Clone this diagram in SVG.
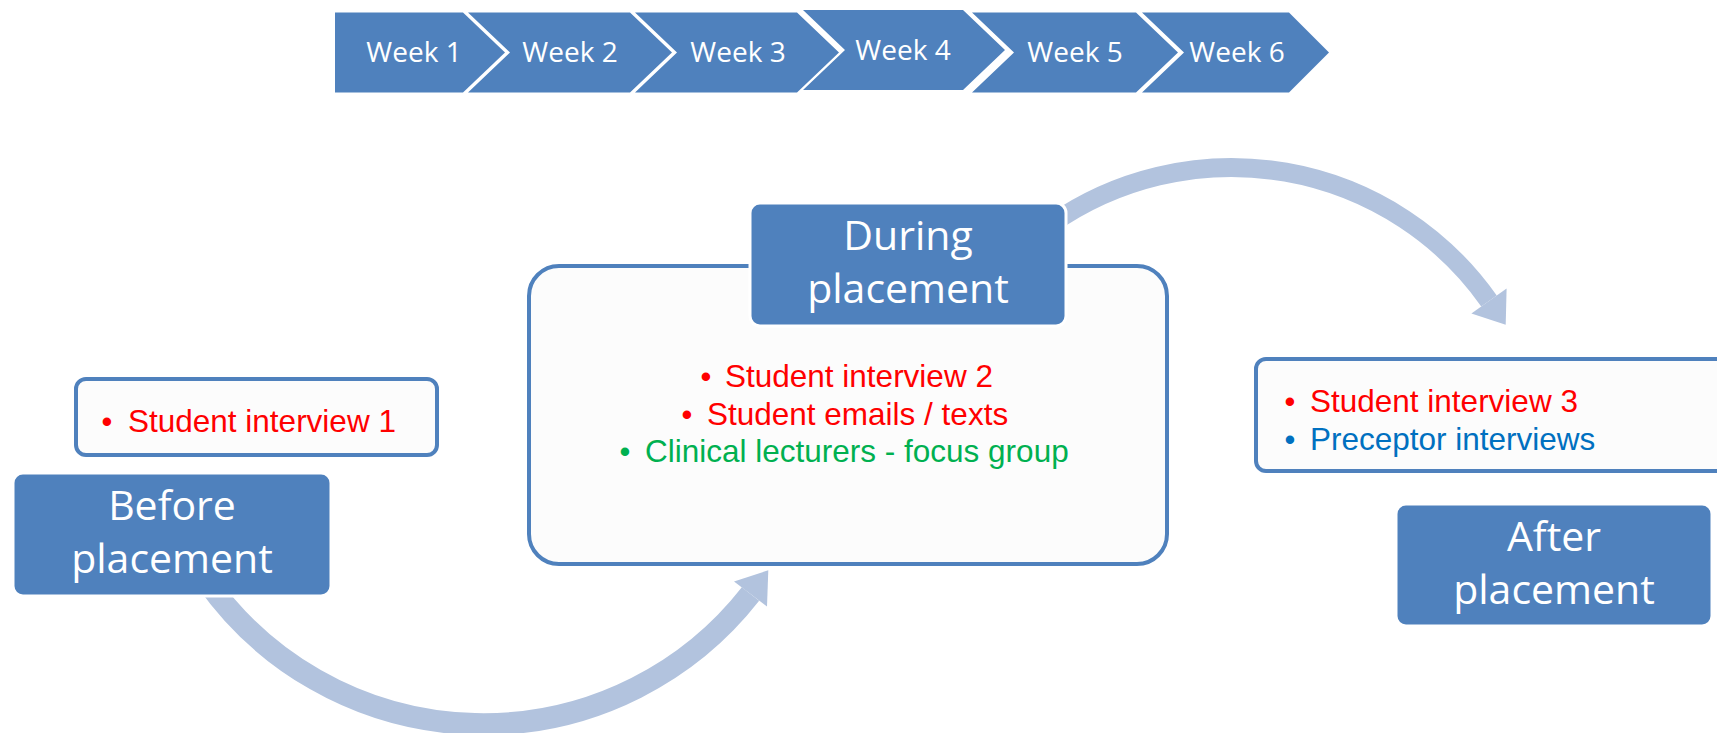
<svg xmlns="http://www.w3.org/2000/svg" width="1717" height="733" viewBox="0 0 1717 733">
<style>
.chev{fill:#4f81bd}
.wk{font-family:"Open Sans","Liberation Sans",sans-serif;font-size:28px;fill:#ffffff;text-anchor:middle}
.hdr{fill:#4f81bd;stroke:#ffffff;stroke-width:3}
.ht{font-family:"Open Sans","Liberation Sans",sans-serif;font-size:41px;fill:#ffffff;text-anchor:middle}
.box{fill:#fcfcfc;stroke:#4f81bd;stroke-width:4}
.bt{font-family:"Liberation Sans",Arial,sans-serif;font-size:31.5px}
.bu{font-family:"Liberation Sans",Arial,sans-serif;font-size:31px;text-anchor:middle}
.red{fill:#ff0000}
.grn{fill:#00b050}
.blu{fill:#0070c0}
.arc{fill:none;stroke:#b2c3de}
.head{fill:#b2c3de}
</style>
<rect width="1717" height="733" fill="#ffffff"/>

<g id="timeline">
  <g id="week1"><polygon class="chev" points="335,12.5 463,12.5 505,52.5 463,92.5 335,92.5"/><text class="wk" x="414" y="62">Week 1</text></g>
  <g id="week2"><polygon class="chev" points="468,12.5 630,12.5 672,52.5 630,92.5 468,92.5 510,52.5"/><text class="wk" x="570" y="62">Week 2</text></g>
  <g id="week3"><polygon class="chev" points="635,12.5 797,12.5 839,52.5 797,92.5 635,92.5 677,52.5"/><text class="wk" x="738" y="62">Week 3</text></g>
  <g id="week4"><polygon class="chev" points="803,10 963,10 1005,50 963,90 803,90 845,50"/><text class="wk" x="903" y="60">Week 4</text></g>
  <g id="week5"><polygon class="chev" points="972,12.5 1136,12.5 1178,52.5 1136,92.5 972,92.5 1014,52.5"/><text class="wk" x="1075" y="62">Week 5</text></g>
  <g id="week6"><polygon class="chev" points="1142,12.5 1289,12.5 1329,52.5 1289,92.5 1142,92.5 1184,52.5"/><text class="wk" x="1237" y="62">Week 6</text></g>
</g>

<g id="connectors">
  <path class="arc" stroke-width="19" d="M 1050.8 224.5 A 315 315 0 0 1 1489 301"/>
  <polygon class="head" points="1471.4,313.4 1506.6,288.6 1505.7,324.7"/>
  <path class="arc" stroke-width="22" d="M 206 580 A 339 339 0 0 0 750.5 594"/>
  <polygon class="head" points="734,581.6 767,606.4 768.3,570.2"/>
</g>

<g id="before-content">
  <rect class="box" x="76" y="379" width="361" height="76" rx="10"/>
  <text class="bu red" x="107" y="432">•</text>
  <text class="bt red" x="128" y="432">Student interview 1</text>
</g>

<g id="before-placement">
  <rect class="hdr" x="13" y="473" width="318" height="123" rx="10"/>
  <text class="ht" x="172" y="520">Before</text>
  <text class="ht" x="172" y="573">placement</text>
</g>

<g id="during-content">
  <rect class="box" x="529" y="266" width="638" height="298" rx="30"/>
  <text class="bu red" x="706" y="387">•</text>
  <text class="bt red" x="725" y="387">Student interview 2</text>
  <text class="bu red" x="687" y="425">•</text>
  <text class="bt red" x="707" y="425">Student emails / texts</text>
  <text class="bu grn" x="625" y="462">•</text>
  <text class="bt grn" x="645" y="462">Clinical lecturers - focus group</text>
</g>

<g id="during-placement">
  <rect class="hdr" x="750" y="203" width="316" height="123" rx="10"/>
  <text class="ht" x="908" y="250">During</text>
  <text class="ht" x="908" y="303">placement</text>
</g>

<g id="after-content">
  <rect class="box" x="1256" y="359" width="500" height="112" rx="10"/>
  <text class="bu red" x="1290" y="412">•</text>
  <text class="bt red" x="1310" y="412">Student interview 3</text>
  <text class="bu blu" x="1290" y="450">•</text>
  <text class="bt blu" x="1310" y="450">Preceptor interviews</text>
</g>

<g id="after-placement">
  <rect class="hdr" x="1396" y="504" width="316" height="122" rx="10"/>
  <text class="ht" x="1554" y="551">After</text>
  <text class="ht" x="1554" y="604">placement</text>
</g>
</svg>
